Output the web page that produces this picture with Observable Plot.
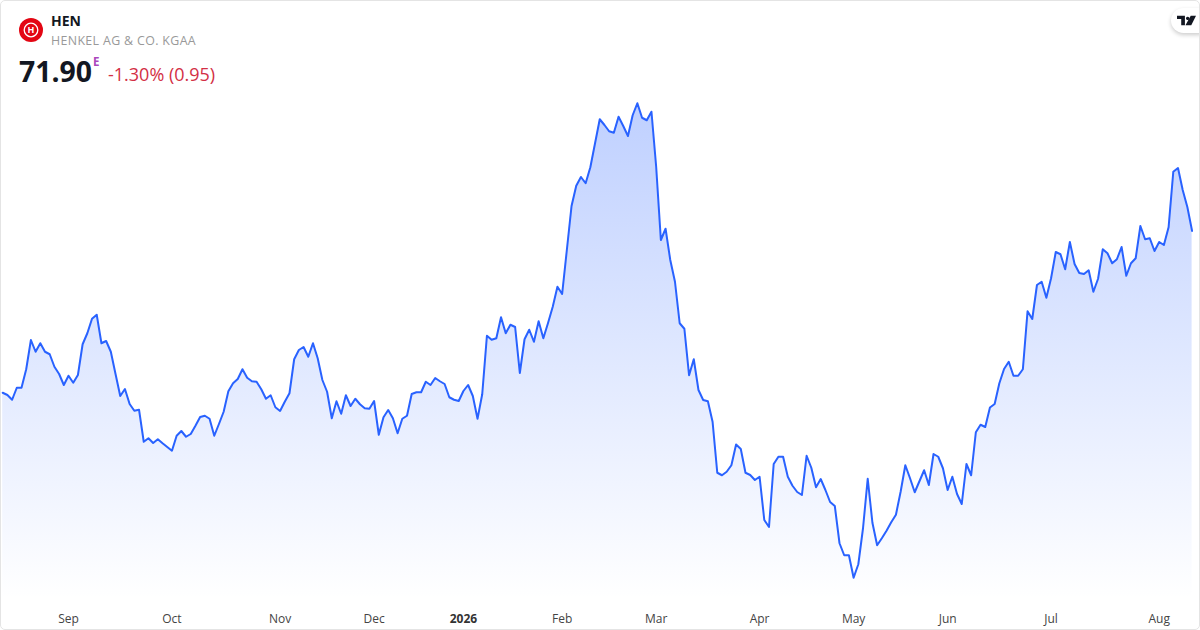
<!DOCTYPE html>
<html><head><meta charset="utf-8">
<script src="https://cdn.jsdelivr.net/npm/d3@7"></script>
<script src="https://cdn.jsdelivr.net/npm/@observablehq/plot@0.6"></script>
<style>
html,body{margin:0;padding:0;background:#fff;overflow:hidden}
#card{position:relative;width:1200px;height:630px;box-sizing:border-box;font-family:"Open Sans",sans-serif;overflow:hidden}
#card:after{content:"";position:absolute;inset:0;border:1px solid #e4e4e4;border-radius:5px;pointer-events:none}
#chart{position:absolute;left:0;top:0}
#chart svg{display:block}
.t{position:absolute;white-space:nowrap;line-height:1}
#logo{position:absolute;left:19px;top:18px}
#tv{position:absolute;left:1171px;top:8px;width:40px;height:25px;border-radius:13px;background:#fff;box-shadow:0 2px 4px rgba(0,0,0,.2)}
#tv svg{position:absolute;left:6px;top:7px}
</style></head><body>
<div id="card">
<div id="chart"></div>
<svg id="logo" width="24" height="24" viewBox="0 0 24 24"><circle cx="12" cy="12" r="12" fill="#e30613"/><circle cx="12" cy="12" r="6.8" fill="none" stroke="#fff" stroke-width="1.3"/><text x="12" y="15.3" text-anchor="middle" font-family="Open Sans" font-weight="700" font-size="9" fill="#fff">H</text></svg>
<div class="t" style="left:51px;top:14px;font-size:14px;font-weight:700;color:#131722">HEN</div>
<div class="t" style="left:51px;top:35px;font-size:12.4px;color:#999;letter-spacing:.35px">HENKEL AG &amp; CO. KGAA</div>
<div class="t" style="left:19px;top:57px;font-size:28.4px;font-weight:700;color:#131722">71.90</div>
<div class="t" style="left:93px;top:56px;font-size:11.5px;font-weight:700;color:#ab47bc">E</div>
<div class="t" style="left:108px;top:65px;font-size:18px;color:#d32f45">-1.30% (0.95)</div>
<div id="tv"><svg width="19" height="11" viewBox="0 0 36 20"><path fill="#131722" d="M0 1h15v18H8V7H0zM17 6a3.2 3.2 0 1 0 0-.01zM26 1h10l-9 18H16z"/></svg></div>
</div>
<script>
const prices = [
65.43,65.34,65.15,65.63,65.63,66.37,67.54,67.07,67.41,67.07,
66.97,66.47,66.18,65.74,66.11,65.83,66.14,67.37,67.81,68.39,
68.55,67.41,67.50,67.07,66.18,65.30,65.58,64.98,64.71,64.75,
63.47,63.61,63.42,63.57,63.41,63.26,63.11,63.71,63.90,63.67,
63.78,64.11,64.46,64.51,64.39,63.71,64.18,64.67,65.49,65.81,
65.98,66.37,66.03,65.89,65.87,65.57,65.19,65.33,64.85,64.70,
65.07,65.41,66.77,67.14,67.26,66.87,67.41,66.81,65.94,65.47,
64.41,65.09,64.59,65.33,64.90,65.19,64.97,64.81,64.79,65.10,
63.75,64.45,64.74,64.41,63.81,64.39,64.51,65.38,65.45,65.45,
65.87,65.74,66.02,65.89,65.78,65.25,65.15,65.10,65.50,65.74,
65.30,64.39,65.37,67.71,67.55,67.61,68.45,67.81,68.15,68.06,
66.22,67.57,67.95,67.47,68.29,67.61,68.22,68.87,69.67,69.38,
71.14,72.90,73.71,74.06,73.81,74.45,75.41,76.37,76.14,75.89,
75.83,76.47,76.10,75.70,76.53,77.01,76.43,76.33,76.67,74.47,
71.54,71.99,70.74,69.87,68.21,67.99,66.13,66.77,65.54,65.14,
65.09,64.27,62.23,62.13,62.27,62.53,63.36,63.18,62.23,62.14,
61.94,62.07,60.34,60.06,62.58,62.87,62.87,62.07,61.71,61.46,
61.34,62.91,62.43,61.65,61.98,61.54,61.06,60.90,59.41,58.93,
58.93,58.03,58.57,60.01,61.99,60.23,59.33,59.61,59.91,60.25,
60.55,61.47,62.53,62.01,61.45,61.89,62.33,61.74,62.98,62.87,
62.41,61.54,62.07,61.38,60.98,62.58,62.13,63.85,64.15,64.06,
64.84,64.98,65.81,66.38,66.67,66.11,66.11,66.37,68.69,68.38,
69.74,69.87,69.23,70.01,71.06,70.97,70.37,71.46,70.58,70.22,
70.18,70.33,69.47,69.99,71.17,71.01,70.61,70.77,71.26,70.11,
70.61,70.81,72.10,71.57,71.61,71.10,71.46,71.34,72.05,74.27,
74.42,73.54,72.85,71.90];
const tickIndex = [14,36,59,79,119,139,161,181,201,223,246];
const tickLabels = ["Sep","Oct","Nov","Dec","Feb","Mar","Apr","May","Jun","Jul","Aug"];
const yearIndex = [98];
const yearLabels = ["2026"];
const baseline = 57.14;

const rows = prices.map((price,i)=>({i,price}));
const monthRows = tickIndex.map((i,k)=>({i,label:tickLabels[k]}));
const yearRows = yearIndex.map((i,k)=>({i,label:yearLabels[k]}));

const defs = () => {
  const s = d3.create("svg:g");
  const g = s.append("defs").append("linearGradient").attr("id","areaGrad").attr("x1",0).attr("x2",0).attr("y1",0).attr("y2",1);
  g.append("stop").attr("offset","0%").attr("stop-color","#2962ff").attr("stop-opacity",0.3);
  g.append("stop").attr("offset","100%").attr("stop-color","#2962ff").attr("stop-opacity",0);
  return s.node();
};

const chart = Plot.plot({
  width:1200, height:630,
  marginTop:0, marginBottom:0, marginLeft:0, marginRight:0,
  style:{background:"transparent",fontFamily:"'Open Sans',sans-serif",overflow:"visible"},
  x:{domain:[0,253],range:[2.2,1191.6],axis:null},
  y:{domain:[55.94,81.14],range:[629.5,-0.5],axis:null},
  marks:[
    defs,
    Plot.areaY(rows,{x:"i",y1:()=>baseline,y2:"price",fill:"url(#areaGrad)",curve:"linear"}),
    Plot.lineY(rows,{x:"i",y:"price",stroke:"#2962ff",strokeWidth:2,curve:"linear",strokeLinejoin:"round"}),
    Plot.text(monthRows,{x:"i",text:"label",frameAnchor:"bottom",dy:-8,fontSize:12,fill:"#444"}),
    Plot.text(yearRows,{x:"i",text:"label",frameAnchor:"bottom",dy:-8,fontSize:12,fontWeight:700,fill:"#333"})
  ]
});
document.getElementById("chart").append(chart);
</script>
</body></html>
